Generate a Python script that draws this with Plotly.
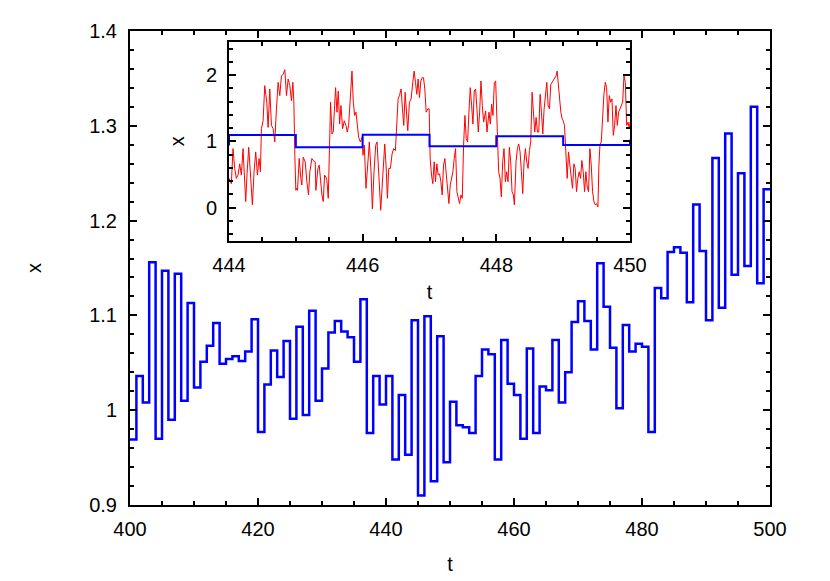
import plotly.graph_objects as go

# ---------------- data ----------------
# main series: value held on [t, t+1) for t = 400 .. 499
t_main = list(range(400, 501))
x_main = [
    0.969, 1.036, 1.008, 1.156, 0.970, 1.147, 0.990, 1.144, 1.010, 1.113,   # 400-409
    1.024, 1.051, 1.068, 1.092, 1.049, 1.054, 1.057, 1.052, 1.062, 1.096,   # 410-419
    0.977, 1.027, 1.063, 1.035, 1.073, 0.991, 1.088, 0.995, 1.105, 1.010,   # 420-429
    1.044, 1.082, 1.094, 1.083, 1.077, 1.051, 1.117, 0.976, 1.036, 1.006,   # 430-439
    1.036, 0.948, 1.016, 0.953, 1.095, 0.910, 1.099, 0.925, 1.078, 0.945,   # 440-449
    1.009, 0.984, 0.982, 0.976, 1.036, 1.064, 1.059, 0.948, 1.074, 1.028,   # 450-459
    1.016, 0.970, 1.065, 0.976, 1.025, 1.021, 1.074, 1.008, 1.040, 1.093,   # 460-469
    1.115, 1.094, 1.064, 1.155, 1.109, 1.066, 1.002, 1.090, 1.062, 1.070,   # 470-479
    1.067, 0.977, 1.129, 1.118, 1.167, 1.172, 1.166, 1.114, 1.217, 1.168,   # 480-489
    1.095, 1.266, 1.108, 1.292, 1.143, 1.250, 1.152, 1.320, 1.134, 1.233,   # 490-499
    1.233,                                                                  # 500 (end)
]

# inset: fine-resolution signal (t, x)
red_points = [
    # 444 - 445
    (444.00, 0.44), (444.035, 0.36), (444.06, 0.89), (444.085, 0.59), (444.11, 0.44),
    (444.135, 0.49), (444.16, 0.66), (444.185, 0.49), (444.21, 0.89), (444.235, 0.21),
    (444.25, 0.09), (444.27, 0.51), (444.295, 0.91), (444.325, 0.44), (444.35, 0.04),
    (444.375, 0.54), (444.40, 0.84), (444.425, 0.49), (444.45, 0.74), (444.47, 0.54),
    (444.485, 1.19), (444.51, 1.31), (444.535, 1.84), (444.565, 1.59), (444.585, 1.21),
    (444.61, 1.79), (444.635, 1.24), (444.66, 1.19), (444.685, 0.99), (444.71, 1.49),
    (444.735, 1.89), (444.76, 1.69), (444.785, 1.99), (444.81, 2.01), (444.835, 2.08),
    (444.86, 1.69), (444.885, 1.94), (444.91, 1.84), (444.935, 1.61), (444.955, 1.89),
    (444.97, 1.61), (444.985, 0.79), (445.00, 0.26),
    # 445 - 446
    (445.01, 0.29), (445.025, 0.26), (445.05, 0.74), (445.075, 0.44), (445.09, 0.34),
    (445.11, 0.76), (445.14, 0.69), (445.165, 0.39), (445.19, 0.19), (445.21, 0.54),
    (445.24, 0.74), (445.26, 0.71), (445.29, 0.69), (445.30, 0.26), (445.33, 0.59),
    (445.35, 0.64), (445.37, 0.39), (445.39, 0.19), (445.41, 0.09), (445.43, 0.49),
    (445.45, 0.46), (445.465, 0.41), (445.485, 0.14), (445.50, 0.94), (445.52, 1.59),
    (445.54, 1.11), (445.56, 1.14), (445.58, 1.54), (445.595, 1.81), (445.615, 1.44),
    (445.635, 1.76), (445.655, 1.26), (445.675, 1.54), (445.70, 1.19), (445.725, 1.31),
    (445.75, 1.24), (445.77, 1.14), (445.79, 1.24), (445.82, 1.69), (445.84, 2.06),
    (445.86, 1.59), (445.88, 1.39), (445.90, 1.44), (445.92, 1.19), (445.94, 1.06),
    (445.965, 0.99), (445.99, 1.06),
    # 446 - 447
    (446.005, 0.79), (446.025, 0.94), (446.05, 0.29), (446.075, 0.69), (446.10, 0.99),
    (446.125, 0.54), (446.145, -0.02), (446.17, 0.54), (446.195, 0.94), (446.215, 0.99),
    (446.24, 0.54), (446.27, -0.04), (446.29, 0.29), (446.31, 0.74), (446.33, 0.96),
    (446.35, 0.64), (446.37, 0.14), (446.39, 0.59), (446.415, 0.59), (446.44, 0.81),
    (446.465, 0.89), (446.49, 0.86), (446.51, 1.24), (446.53, 1.64), (446.55, 1.69),
    (446.575, 1.79), (446.595, 1.49), (446.615, 1.24), (446.635, 1.74), (446.655, 1.44),
    (446.675, 1.16), (446.70, 1.59), (446.725, 1.64), (446.75, 1.89), (446.77, 2.06),
    (446.79, 1.89), (446.81, 1.71), (446.83, 1.94), (446.85, 1.66), (446.87, 1.91),
    (446.89, 1.96), (446.91, 1.96), (446.93, 1.79), (446.95, 1.44), (446.975, 1.49),
    # 447 - 448
    (446.995, 1.49), (447.01, 0.74), (447.03, 0.49), (447.05, 0.36), (447.07, 0.69),
    (447.09, 0.39), (447.11, 0.66), (447.13, 0.49), (447.15, 0.51), (447.17, 0.39),
    (447.19, 0.19), (447.21, 0.64), (447.23, 0.74), (447.25, 0.49), (447.27, 0.29),
    (447.29, 0.06), (447.31, 0.34), (447.33, 0.44), (447.35, 0.54), (447.37, 0.74),
    (447.39, 0.89), (447.41, 0.24), (447.43, 0.14), (447.45, 0.06), (447.47, 0.19),
    (447.49, 0.14), (447.51, 0.94), (447.53, 1.39), (447.55, 1.04), (447.57, 0.99),
    (447.59, 1.44), (447.61, 1.81), (447.63, 1.54), (447.65, 1.26), (447.67, 1.76),
    (447.69, 1.79), (447.71, 1.49), (447.73, 1.14), (447.75, 1.44), (447.77, 1.91),
    (447.79, 1.54), (447.81, 1.29), (447.84, 1.46), (447.86, 1.14), (447.89, 1.44),
    (447.91, 1.26), (447.93, 1.56), (447.95, 1.39), (447.97, 1.89), (447.99, 1.91),
    # 448 - 449
    (448.015, 1.14), (448.035, 0.54), (448.055, 0.44), (448.075, 0.16), (448.095, 0.69),
    (448.115, 0.89), (448.135, 0.39), (448.155, 0.54), (448.175, 0.39), (448.195, 0.91),
    (448.215, 0.69), (448.235, 0.24), (448.255, 0.19), (448.27, 0.04), (448.295, 0.69),
    (448.315, 0.89), (448.335, 0.96), (448.355, 0.84), (448.375, 0.54), (448.395, 0.21),
    (448.415, 0.69), (448.435, 0.89), (448.455, 0.69), (448.475, 0.59), (448.495, 0.86),
    (448.515, 0.99), (448.535, 1.74), (448.555, 1.44), (448.575, 1.14), (448.595, 1.36),
    (448.615, 1.14), (448.635, 1.14), (448.655, 1.71), (448.675, 1.44), (448.695, 1.11),
    (448.715, 1.49), (448.735, 1.69), (448.755, 1.89), (448.775, 1.54), (448.795, 1.49),
    (448.815, 1.86), (448.835, 1.89), (448.855, 1.91), (448.875, 1.94), (448.895, 1.99),
    (448.91, 2.06), (448.925, 1.89), (448.945, 1.64), (448.965, 1.44), (448.985, 1.34),
    (449.00, 1.31),
    # 449 - 450
    (449.02, 1.24), (449.04, 0.89), (449.06, 0.44), (449.08, 0.84), (449.10, 0.69),
    (449.12, 0.46), (449.14, 0.29), (449.16, 0.66), (449.18, 0.59), (449.20, 0.24),
    (449.22, 0.44), (449.24, 0.54), (449.26, 0.44), (449.28, 0.71), (449.30, 0.54),
    (449.32, 0.24), (449.34, 0.54), (449.36, 0.31), (449.38, 0.24), (449.40, 0.89),
    (449.42, 0.64), (449.44, 0.24), (449.46, 0.09), (449.48, 0.04), (449.50, 0.06),
    (449.52, 0.01), (449.535, 0.64), (449.55, 0.94), (449.57, 0.99), (449.59, 1.49),
    (449.61, 1.71), (449.63, 1.89), (449.65, 1.81), (449.67, 1.29), (449.69, 1.69),
    (449.71, 1.59), (449.73, 1.64), (449.75, 1.09), (449.77, 1.24), (449.79, 1.54),
    (449.81, 1.24), (449.83, 1.44), (449.85, 1.49), (449.87, 1.54), (449.89, 1.59),
    (449.91, 1.99), (449.93, 1.89), (449.95, 1.24), (449.97, 1.29), (449.99, 1.19),
    (450.00, 1.29),
]
red_t = [p[0] for p in red_points]
red_x = [p[1] for p in red_points]

main_xticks = [400, 420, 440, 460, 480, 500]
main_yticks = [0.9, 1.0, 1.1, 1.2, 1.3, 1.4]
main_ytick_text = ["0.9", "1", "1.1", "1.2", "1.3", "1.4"]
inset_xticks = [444, 446, 448, 450]
inset_yticks = [0, 1, 2]

# ---------------- figure ----------------
FONT = "Liberation Sans, Arial, Helvetica, sans-serif"
FS = 20
BLUE = "#0000ff"
RED = "#ff0000"

fig = go.Figure()
fig.add_trace(go.Scatter(x=t_main, y=x_main, mode="lines", line=dict(color=BLUE, width=2.5, shape="hv"),
                         xaxis="x", yaxis="y", showlegend=False, hoverinfo="skip"))
fig.add_trace(go.Scatter(x=red_t, y=red_x, mode="lines", line=dict(color=RED, width=1),
                         xaxis="x2", yaxis="y2", showlegend=False, hoverinfo="skip"))
fig.add_trace(go.Scatter(x=t_main, y=x_main, mode="lines", line=dict(color=BLUE, width=2, shape="hv"),
                         xaxis="x2", yaxis="y2", showlegend=False, hoverinfo="skip"))

W, H = 830, 581
# target plot area (in reference pixels): x 130..770, y 28..505 ; page has 8px body margin
PLOT_L, PLOT_R, PLOT_T, PLOT_B = 130, 770, 28, 505
OFF = 8
L = PLOT_L - OFF
T = PLOT_T - OFF
R = W - (PLOT_R - OFF)
B = H - (PLOT_B - OFF)
pw, ph = PLOT_R - PLOT_L, PLOT_B - PLOT_T

def px_to_paper_x(px):
    return (px - PLOT_L) / pw

def px_to_paper_y(py):
    return (PLOT_B - py) / ph

common = dict(showline=True, linecolor="black", linewidth=2, mirror="allticks",
              ticks="inside", tickcolor="black", tickwidth=1.5, showgrid=False, zeroline=False,
              tickfont=dict(family=FONT, size=FS, color="black"))

fig.update_layout(
    width=W, height=H,
    margin=dict(l=L, r=R, t=T, b=B),
    paper_bgcolor="white", plot_bgcolor="white",
    font=dict(family=FONT, size=FS, color="black"),
    xaxis=dict(**common, range=[400, 500], tickvals=main_xticks, ticklen=7,
               minor=dict(ticks="inside", dtick=5, ticklen=4, tickcolor="black", tickwidth=1.5),
               ticklabelstandoff=5,
               title=dict(text="t", font=dict(family=FONT, size=FS), standoff=18)),
    yaxis=dict(**common, range=[0.9, 1.4], tickvals=main_yticks, ticktext=main_ytick_text, ticklen=7,
               minor=dict(ticks="inside", dtick=0.02, tick0=0.9, ticklen=4, tickcolor="black", tickwidth=1.5),
               ticklabelstandoff=7,
               title=dict(text="x", font=dict(family=FONT, size=FS), standoff=42)),
    xaxis2=dict(**common, anchor="y2",
                domain=[px_to_paper_x(229), px_to_paper_x(630)],
                range=[444, 450], tickvals=inset_xticks, ticklen=7,
                minor=dict(ticks="inside", dtick=0.5, tick0=444, ticklen=4, tickcolor="black", tickwidth=1.5),
                ticklabelstandoff=5,
                title=dict(text="t", font=dict(family=FONT, size=FS), standoff=10)),
    yaxis2=dict(**common, anchor="x2",
                domain=[px_to_paper_y(239), px_to_paper_y(39)],
                range=[-0.5, 2.5], tickvals=inset_yticks, ticklen=7,
                minor=dict(ticks="inside", dtick=0.2, tick0=0, ticklen=4, tickcolor="black", tickwidth=1.5),
                ticklabelstandoff=6,
                title=dict(text="x", font=dict(family=FONT, size=FS), standoff=16)),
)

fig.write_html("out.html")
